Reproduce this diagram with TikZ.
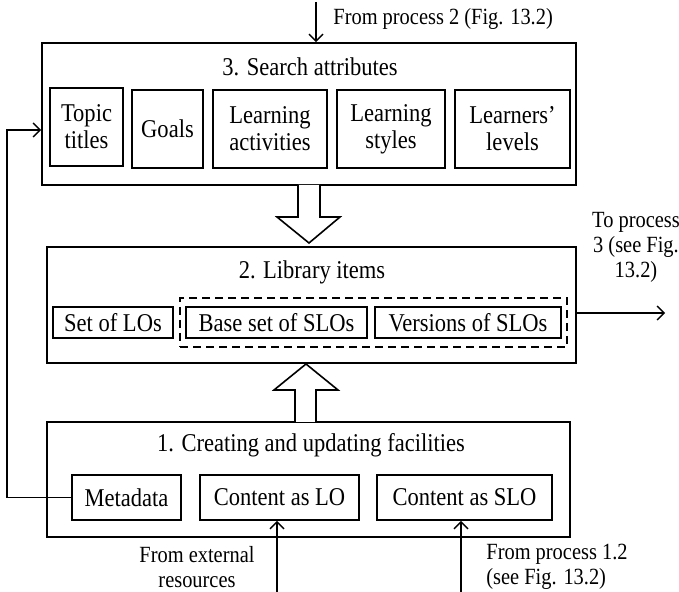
\documentclass[tikz,border=0pt]{standalone}
\usepackage{fontspec}
\setmainfont{Liberation Serif}[FakeStretch=0.88]
\usetikzlibrary{arrows.meta}

\tikzset{
	frame/.style={draw,line width=0.8pt,inner sep=0pt},
	item/.style={frame,align=center,font=\fontsize{12.8}{13.5}\selectfont},
	heading/.style={font=\fontsize{12.8}{13.5}\selectfont},
	note/.style={font=\fontsize{11.6}{12.5}\selectfont,inner sep=0pt},
	hollow/.style={draw,line width=0.8pt,fill=white},
	flow/.style={line width=0.7pt,-{Straight Barb[length=3.5pt,width=7pt]}}
}

\begin{document}
\begin{tikzpicture}[x=0.5pt,y=-0.5pt]
	\useasboundingbox (0,0) rectangle (679,592);

	% search attributes
	\node[frame,minimum width=267pt,minimum height=71pt] (attr) at (309,114) {};
	\node[heading] (attrtitle) at (310,67) {3. Search attributes};
	\node[item,minimum width=36.5pt,minimum height=39pt] (topic) at (86.5,127) {Topic\\titles};
	\node[item,minimum width=35.5pt,minimum height=39pt] (goals) at (167.5,129) {Goals};
	\node[item,minimum width=57pt,minimum height=39pt] (activ) at (270,129) {Learning\\activities};
	\node[item,minimum width=54pt,minimum height=39pt] (styles) at (391,129) {Learning\\styles};
	\node[item,minimum width=57.5pt,minimum height=39pt] (levels) at (512.5,129) {Learners'\\levels};

	% library items
	\node[frame,minimum width=264.5pt,minimum height=58pt] (lib) at (311.5,305) {};
	\node[heading] (libtitle) at (312,272) {2. Library items};
	\node[frame,dash pattern=on 4pt off 2.5pt,minimum width=193.5pt,minimum height=24.5pt] (slos) at (373.5,322.5) {};
	\node[item,minimum width=60pt,minimum height=15.5pt] (los) at (113,322.5) {Set of LOs};
	\node[item,minimum width=90.5pt,minimum height=15.5pt] (base) at (276.5,322.5) {Base set of SLOs};
	\node[item,minimum width=93pt,minimum height=15.5pt] (vers) at (468,322.5) {Versions of SLOs};

	% creating and updating
	\node[frame,minimum width=261.5pt,minimum height=57.5pt] (create) at (308.5,479.5) {};
	\node[heading] (createtitle) at (311,445) {1. Creating and updating facilities};
	\node[item,minimum width=54.5pt,minimum height=22.5pt] (meta) at (126.5,497.5) {Metadata};
	\node[item,minimum width=79.5pt,minimum height=22.5pt] (clo) at (279.5,497.5) {Content as LO};
	\node[item,minimum width=87.5pt,minimum height=22.5pt] (cslo) at (464.5,497.5) {Content as SLO};

	% wide arrows between the boxes
	\draw[hollow] (298,185) -- (298,217) -- (277,217) -- (309,243) -- (340,217) -- (320,217) -- (320,185);
	\draw[hollow] (295,422) -- (295,390) -- (274,390) -- (306,364) -- (338,390) -- (316,390) -- (316,422);

	% incoming and outgoing flows
	\coordinate (fromtwo) at (316,2);
	\coordinate (toproc) at (665,313);
	\coordinate (fromext) at (277,592);
	\coordinate (fromone) at (461,592);
	\coordinate (loop) at (7,130);

	\draw[flow] (fromtwo) -- (fromtwo |- attr.north);
	\node[note,anchor=west] (fromtwolbl) at (333,19) {From process 2 (Fig. 13.2)};

	\draw[flow] (lib.east |- toproc) -- (toproc);
	\node[note,align=center] (toproclbl) at (636,247) {To process\\3 (see Fig.\\13.2)};

	\draw[flow] (fromext) -- (fromext |- clo.south);
	\node[note,align=center] (fromextlbl) at (197,567) {From external\\resources};

	\draw[flow] (fromone) -- (fromone |- cslo.south);
	\node[note,align=left,anchor=west] (fromonelbl) at (486,567) {From process 1.2\\(see Fig. 13.2)};

	\draw[flow] (meta.west) -| (loop) -- (attr.west |- loop);
\end{tikzpicture}
\end{document}
